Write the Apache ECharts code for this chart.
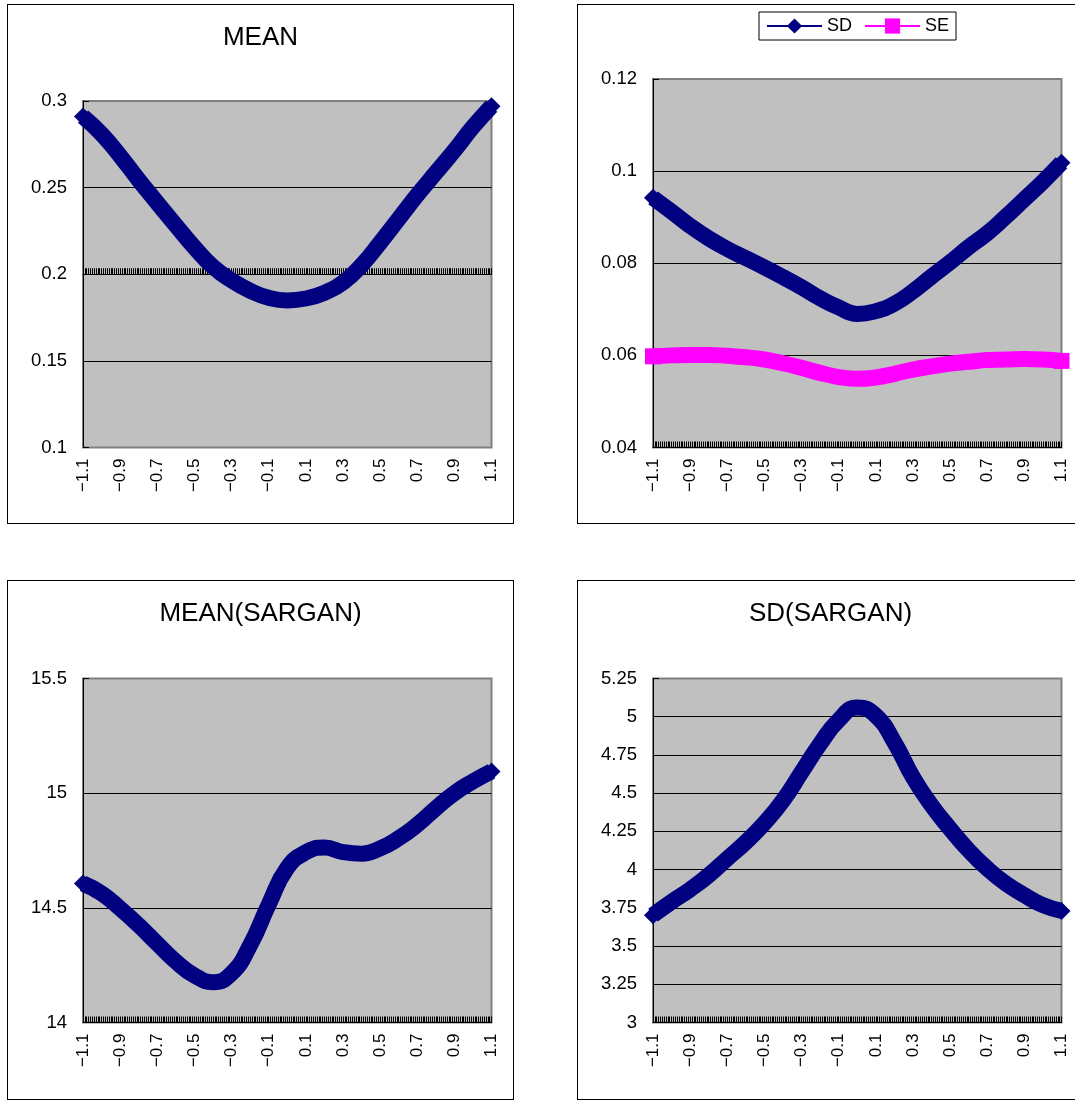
<!DOCTYPE html>
<html><head><meta charset="utf-8">
<script src="https://cdn.jsdelivr.net/npm/echarts@6/dist/echarts.min.js"></script>
<style>
html,body{margin:0;padding:0;background:#fff;width:1075px;height:1100px;overflow:hidden;position:relative;}
.panel{position:absolute;width:507px;height:520px;}
.frame{position:absolute;width:507px;height:520px;box-sizing:border-box;border:1px solid #000;pointer-events:none;}
</style></head><body>
<div id="c1" class="panel" style="left:7px;top:4px"></div><div class="frame" style="left:7px;top:4px"></div>
<div id="c2" class="panel" style="left:577px;top:4px"></div><div class="frame" style="left:577px;top:4px"></div>
<div id="c3" class="panel" style="left:7px;top:580px"></div><div class="frame" style="left:7px;top:580px"></div>
<div id="c4" class="panel" style="left:577px;top:580px"></div><div class="frame" style="left:577px;top:580px"></div>
<script>
// ---- data ----
const xPoints = [-1.1,-1.0,-0.9,-0.8,-0.7,-0.6,-0.5,-0.4,-0.3,-0.2,-0.1,0,0.1,0.2,0.3,0.4,0.5,0.6,0.7,0.8,0.9,1.0,1.1];
const xTickLabels = [-1.1,-0.9,-0.7,-0.5,-0.3,-0.1,0.1,0.3,0.5,0.7,0.9,1.1];
const meanVals = [0.291,0.281,0.2683,0.2544,0.2412,0.2282,0.2155,0.2043,0.1965,0.1905,0.1864,0.1849,0.186,0.1893,0.1952,0.2052,0.2182,0.232,0.2457,0.2586,0.2714,0.285,0.297];
const sdVals = [0.0942,0.0912,0.0881,0.0854,0.0831,0.0811,0.0791,0.077,0.0748,0.0724,0.0704,0.069,0.0696,0.0712,0.0739,0.0771,0.0802,0.0835,0.0865,0.0901,0.0939,0.0977,0.1018];
const seVals = [0.0598,0.06,0.0601,0.0601,0.0599,0.0596,0.0591,0.0583,0.0573,0.0562,0.0553,0.0549,0.0552,0.056,0.0569,0.0576,0.0582,0.0586,0.059,0.0591,0.0592,0.0591,0.0588];
const sarganMeanVals = [14.606,14.563,14.497,14.424,14.344,14.266,14.205,14.176,14.214,14.337,14.514,14.674,14.742,14.763,14.743,14.736,14.759,14.803,14.862,14.934,15.0,15.051,15.095];
const sarganSdVals = [3.702,3.789,3.870,3.963,4.072,4.180,4.304,4.452,4.637,4.822,4.978,5.061,5.007,4.833,4.604,4.42,4.267,4.126,4.007,3.909,3.833,3.767,3.730];
// y-axis ranges [min, max, interval]
const meanAxis = [0.1, 0.3, 0.05];
const sdseAxis = [0.04, 0.12, 0.02];
const sarganMeanAxis = [14, 15.5, 0.5];
const sarganSdAxis = [3, 5.25, 0.25];
const meanCross = 0.2; // horizontal axis crosses at this value in MEAN chart

// ---- helpers ----
const FONT = '"Liberation Sans", Arial, sans-serif';
const NAVY = '#000080', PINK = '#FF00FF';
const xTickValues = [];
for (let i = 0; i <= 220; i++) xTickValues.push(Math.round((-1.1 + i * 0.01) * 100) / 100);
function fmtX(v) { const r = Math.round(v * 10) / 10; return (r < 0 ? '\u2212' : '') + Math.abs(r).toFixed(1); }
function pairs(vals) { return xPoints.map((x, i) => [x, vals[i]]); }

function lineSeries(name, vals, color, symbol, symSize) {
  const last = vals.length - 1;
  return {
    type: 'line', name: name, data: pairs(vals), smooth: 0.5, clip: false,
    symbol: symbol, showSymbol: true,
    symbolSize: (v, p) => (p.dataIndex === 0 || p.dataIndex === last) ? symSize : 0,
    lineStyle: { width: 16, color: color, cap: 'butt', join: 'round' },
    itemStyle: { color: color, borderWidth: 0 },
    emphasis: { disabled: true }, z: 3
  };
}

function makeOption(cfg) {
  const g = cfg.grid;
  const xLabelAxis = {
    type: 'value', min: -1.1, max: 1.1, position: 'bottom',
    splitLine: { show: false },
    axisLine: { show: cfg.cross === undefined, onZero: false, lineStyle: { color: '#000', width: 1 } },
    axisTick: { show: cfg.cross === undefined, inside: true, length: 6, customValues: xTickValues, lineStyle: { color: '#000', width: 1 } },
    axisLabel: { show: true, customValues: xTickLabels, rotate: 90, margin: 11, fontSize: 17, color: '#000', fontFamily: FONT, formatter: fmtX }
  };
  const xAxes = [xLabelAxis];
  if (cfg.cross !== undefined) {
    const [mn, mx] = cfg.y;
    xAxes.push({
      type: 'value', min: -1.1, max: 1.1, position: 'bottom',
      offset: -g.height * (cfg.cross - mn) / (mx - mn),
      splitLine: { show: false },
      axisLine: { show: true, onZero: false, lineStyle: { color: '#000', width: 1 } },
      axisTick: { show: true, inside: true, length: 6, customValues: xTickValues, lineStyle: { color: '#000', width: 1 } },
      axisLabel: { show: false }
    });
  }
  const opt = {
    animation: false,
    backgroundColor: 'transparent',
    textStyle: { fontFamily: FONT },
    grid: Object.assign({ show: true, backgroundColor: '#C0C0C0', borderColor: '#808080', borderWidth: 2, containLabel: false, outerBoundsMode: 'none' }, g),
    xAxis: xAxes,
    yAxis: {
      type: 'value', min: cfg.y[0], max: cfg.y[1], interval: cfg.y[2],
      axisLine: { show: true, onZero: false, lineStyle: { color: '#000', width: 1 } },
      axisTick: { show: true, inside: true, length: 6, lineStyle: { color: '#000', width: 1 } },
      splitLine: { show: true, showMinLine: false, showMaxLine: false, lineStyle: { color: '#000', width: 1 } },
      axisLabel: { fontSize: 18.5, color: '#000', margin: 16, fontFamily: FONT }
    },
    series: cfg.series
  };
  if (cfg.title) opt.title = { text: cfg.title, left: 'center', top: 16, textStyle: { fontSize: 26, fontWeight: 'normal', color: '#000', fontFamily: FONT } };
  if (cfg.legend) opt.legend = cfg.legend;
  return opt;
}

const charts = [
  ['c1', makeOption({ title: 'MEAN', grid: { left: 76, top: 97, width: 408.5, height: 346.5 }, y: meanAxis, cross: meanCross,
     series: [lineSeries('MEAN', meanVals, NAVY, 'diamond', 18)] })],
  ['c2', makeOption({ grid: { left: 76, top: 75, width: 408.5, height: 368.5 }, y: sdseAxis,
     legend: { show: true, left: 182, top: 8, padding: [5, 7], itemGap: 12, itemWidth: 55, itemHeight: 19,
               borderColor: '#000', borderWidth: 1, backgroundColor: '#fff',
               textStyle: { fontSize: 18, color: '#000', fontFamily: FONT },
               lineStyle: { width: 2 }, data: ['SD', 'SE'] },
     series: [lineSeries('SD', sdVals, NAVY, 'diamond', 18), lineSeries('SE', seVals, PINK, 'rect', 16)] })],
  ['c3', makeOption({ title: 'MEAN(SARGAN)', grid: { left: 76, top: 98.5, width: 408.5, height: 344 }, y: sarganMeanAxis,
     series: [lineSeries('MEAN(SARGAN)', sarganMeanVals, NAVY, 'diamond', 18)] })],
  ['c4', makeOption({ title: 'SD(SARGAN)', grid: { left: 76, top: 98.5, width: 408.5, height: 344 }, y: sarganSdAxis,
     series: [lineSeries('SD(SARGAN)', sarganSdVals, NAVY, 'diamond', 18)] })]
];
charts.forEach(([id, opt]) => {
  const c = echarts.init(document.getElementById(id), null, { renderer: 'canvas' });
  c.setOption(opt);
});
</script>
</body></html>
